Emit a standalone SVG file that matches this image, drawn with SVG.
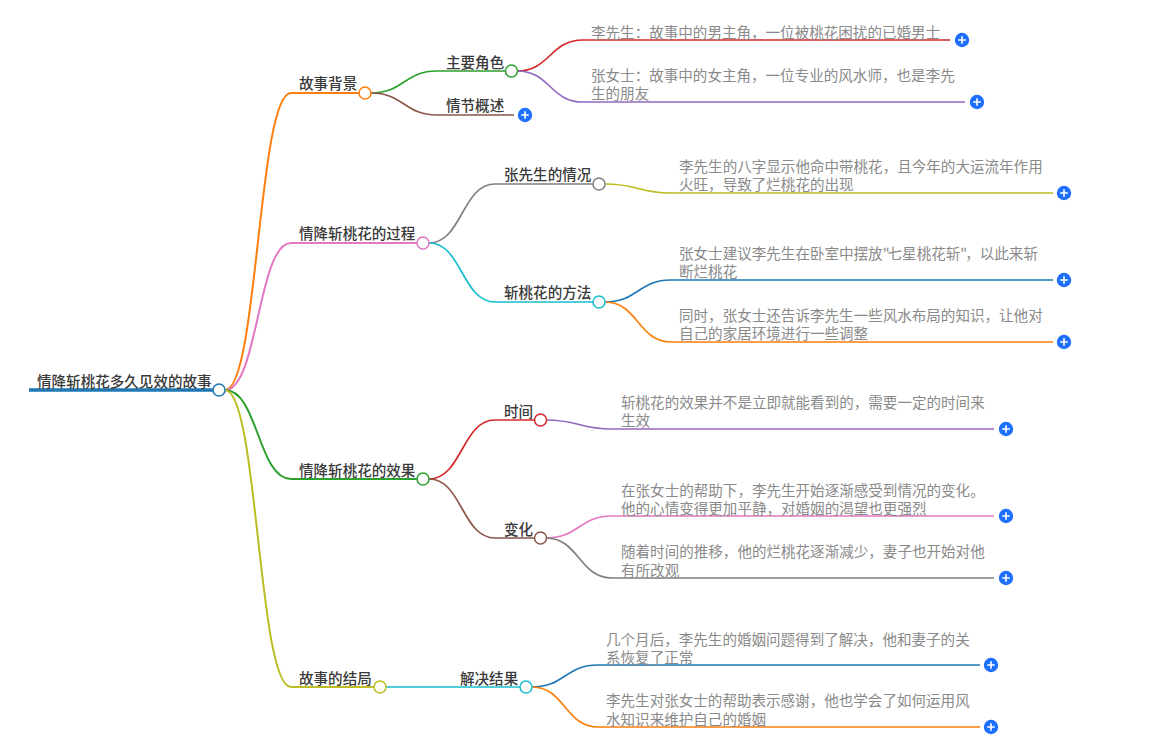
<svg xmlns="http://www.w3.org/2000/svg" width="1160" height="751" viewBox="0 0 1160 751">
<style>
text{font-family:"Noto Sans CJK SC","Liberation Sans",sans-serif;font-size:14.55px}
.h{fill:#3a3a3a;font-weight:500}
.l{fill:#8a8a8a}
.c{fill:none;stroke-width:1.7}
.t{fill:none;stroke-width:2}
.d{fill:#fff;stroke-width:1.5}
.p{fill:#1f6fff}
.x{stroke:#fff;stroke-width:1.6;fill:none}
</style>
<defs><g id="plus"><circle class="p" r="7.2"/><path class="x" d="M-3.8 0H3.8M0-3.800V3.800"/></g></defs>
<rect width="1160" height="751" fill="#fff"/>
<g id="connectors">
<path d="M29 390H213" fill="none" stroke="#1f77b4" stroke-width="3.500"/>
<path class="t" stroke="#ff7f0e" d="M225 390C258 390 258 93 291 93H359"/>
<path class="t" stroke="#e377c2" d="M225 390C258 390 258 243 291 243H417"/>
<path class="t" stroke="#2ca02c" d="M225 390C258 390 258 479 291 479H417"/>
<path class="t" stroke="#bcbd22" d="M225 390C258 390 258 687 291 687H374"/>
<path class="c" stroke="#2ca02c" d="M371 93C404 93 404 71 437 71H506"/>
<path class="c" stroke="#8c564b" d="M371 93C404 93 404 115 437 115H514"/>
<path class="c" stroke="#d62728" d="M517 71C550 71 550 40 583 40H950"/>
<path class="c" stroke="#9467bd" d="M517 71C550 71 550 102 583 102H965"/>
<path class="c" stroke="#7f7f7f" d="M429 243C462 243 462 184 495 184H593"/>
<path class="c" stroke="#17becf" d="M429 243C462 243 462 302 495 302H593"/>
<path class="c" stroke="#bcbd22" d="M605 184C638 184 638 193 671 193H1053"/>
<path class="c" stroke="#1f77b4" d="M605 302C638 302 638 280 671 280H1053"/>
<path class="c" stroke="#ff7f0e" d="M605 302C638 302 638 342 671 342H1053"/>
<path class="c" stroke="#d62728" d="M429 479C462 479 462 420 495 420H534"/>
<path class="c" stroke="#8c564b" d="M429 479C462 479 462 538 495 538H534"/>
<path class="c" stroke="#9467bd" d="M546 420C579 420 579 429 612 429H994"/>
<path class="c" stroke="#e377c2" d="M546 538C579 538 579 516 612 516H994"/>
<path class="c" stroke="#7f7f7f" d="M546 538C579 538 579 578 612 578H994"/>
<path class="c" stroke="#17becf" d="M386 687C419 687 419 687 452 687H520"/>
<path class="c" stroke="#1f77b4" d="M532 687C565 687 565 665 598 665H980"/>
<path class="c" stroke="#ff7f0e" d="M532 687C565 687 565 727 598 727H980"/>
</g>
<g id="n0"><text class="h" x="37" y="387">情降斩桃花多久见效的故事</text><circle class="d" stroke="#1f77b4" cx="219" cy="390" r="6"/></g>
<g id="n1"><text class="h" x="299" y="89">故事背景</text><circle class="d" stroke="#ff7f0e" cx="365" cy="93" r="6"/></g>
<g id="n2"><text class="h" x="446" y="68">主要角色</text><circle class="d" stroke="#2ca02c" cx="511.500" cy="71" r="6"/></g>
<g id="n3"><text class="h" x="446" y="111">情节概述</text><use href="#plus" x="525" y="115"/></g>
<g id="n4"><text class="l" x="591" y="38">李先生：故事中的男主角，一位被桃花困扰的已婚男士</text><use href="#plus" x="962" y="40"/></g>
<g id="n5"><text class="l" x="591" y="81">张女士：故事中的女主角，一位专业的风水师，也是李先</text><text class="l" x="591" y="98.500">生的朋友</text><use href="#plus" x="977" y="102"/></g>
<g id="n6"><text class="h" x="299" y="239">情降斩桃花的过程</text><circle class="d" stroke="#e377c2" cx="423" cy="243" r="6"/></g>
<g id="n7"><text class="h" x="504" y="180">张先生的情况</text><circle class="d" stroke="#7f7f7f" cx="599" cy="184" r="6"/></g>
<g id="n8"><text class="h" x="504" y="298">斩桃花的方法</text><circle class="d" stroke="#17becf" cx="599" cy="302" r="6"/></g>
<g id="n9"><text class="l" x="679" y="172">李先生的八字显示他命中带桃花，且今年的大运流年作用</text><text class="l" x="679" y="190">火旺，导致了烂桃花的出现</text><use href="#plus" x="1064" y="193"/></g>
<g id="n10"><text class="l" x="679" y="258.500">张女士建议李先生在卧室中摆放"<tspan dx="-2">七星桃花斩"</tspan><tspan dx="-2">，以此来斩</tspan></text><text class="l" x="679" y="277">断烂桃花</text><use href="#plus" x="1064" y="280"/></g>
<g id="n11"><text class="l" x="679" y="321">同时，张女士还告诉李先生一些风水布局的知识，让他对</text><text class="l" x="679" y="338.500">自己的家居环境进行一些调整</text><use href="#plus" x="1064" y="342"/></g>
<g id="n12"><text class="h" x="299" y="476">情降斩桃花的效果</text><circle class="d" stroke="#2ca02c" cx="423" cy="479" r="6"/></g>
<g id="n13"><text class="h" x="504" y="417">时间</text><circle class="d" stroke="#d62728" cx="540.500" cy="420" r="6"/></g>
<g id="n14"><text class="h" x="504" y="535">变化</text><circle class="d" stroke="#8c564b" cx="540.500" cy="538" r="6"/></g>
<g id="n15"><text class="l" x="621" y="408">斩桃花的效果并不是立即就能看到的，需要一定的时间来</text><text class="l" x="621" y="426">生效</text><use href="#plus" x="1006" y="429"/></g>
<g id="n16"><text class="l" x="621" y="496">在张女士的帮助下，李先生开始逐渐感受到情况的变化。</text><text class="l" x="621" y="514">他的心情变得更加平静，对婚姻的渴望也更强烈</text><use href="#plus" x="1006" y="516"/></g>
<g id="n17"><text class="l" x="621" y="557">随着时间的推移，他的烂桃花逐渐减少，妻子也开始对他</text><text class="l" x="621" y="576">有所改观</text><use href="#plus" x="1006" y="578"/></g>
<g id="n18"><text class="h" x="299" y="684">故事的结局</text><circle class="d" stroke="#bcbd22" cx="380" cy="687" r="6"/></g>
<g id="n19"><text class="h" x="460" y="684">解决结果</text><circle class="d" stroke="#17becf" cx="526" cy="687" r="6"/></g>
<g id="n20"><text class="l" x="606" y="645">几个月后，李先生的婚姻问题得到了解决，他和妻子的关</text><text class="l" x="606" y="662.500">系恢复了正常</text><use href="#plus" x="991" y="665"/></g>
<g id="n21"><text class="l" x="606" y="706">李先生对张女士的帮助表示感谢，他也学会了如何运用风</text><text class="l" x="606" y="725">水知识来维护自己的婚姻</text><use href="#plus" x="991" y="727"/></g>
</svg>
